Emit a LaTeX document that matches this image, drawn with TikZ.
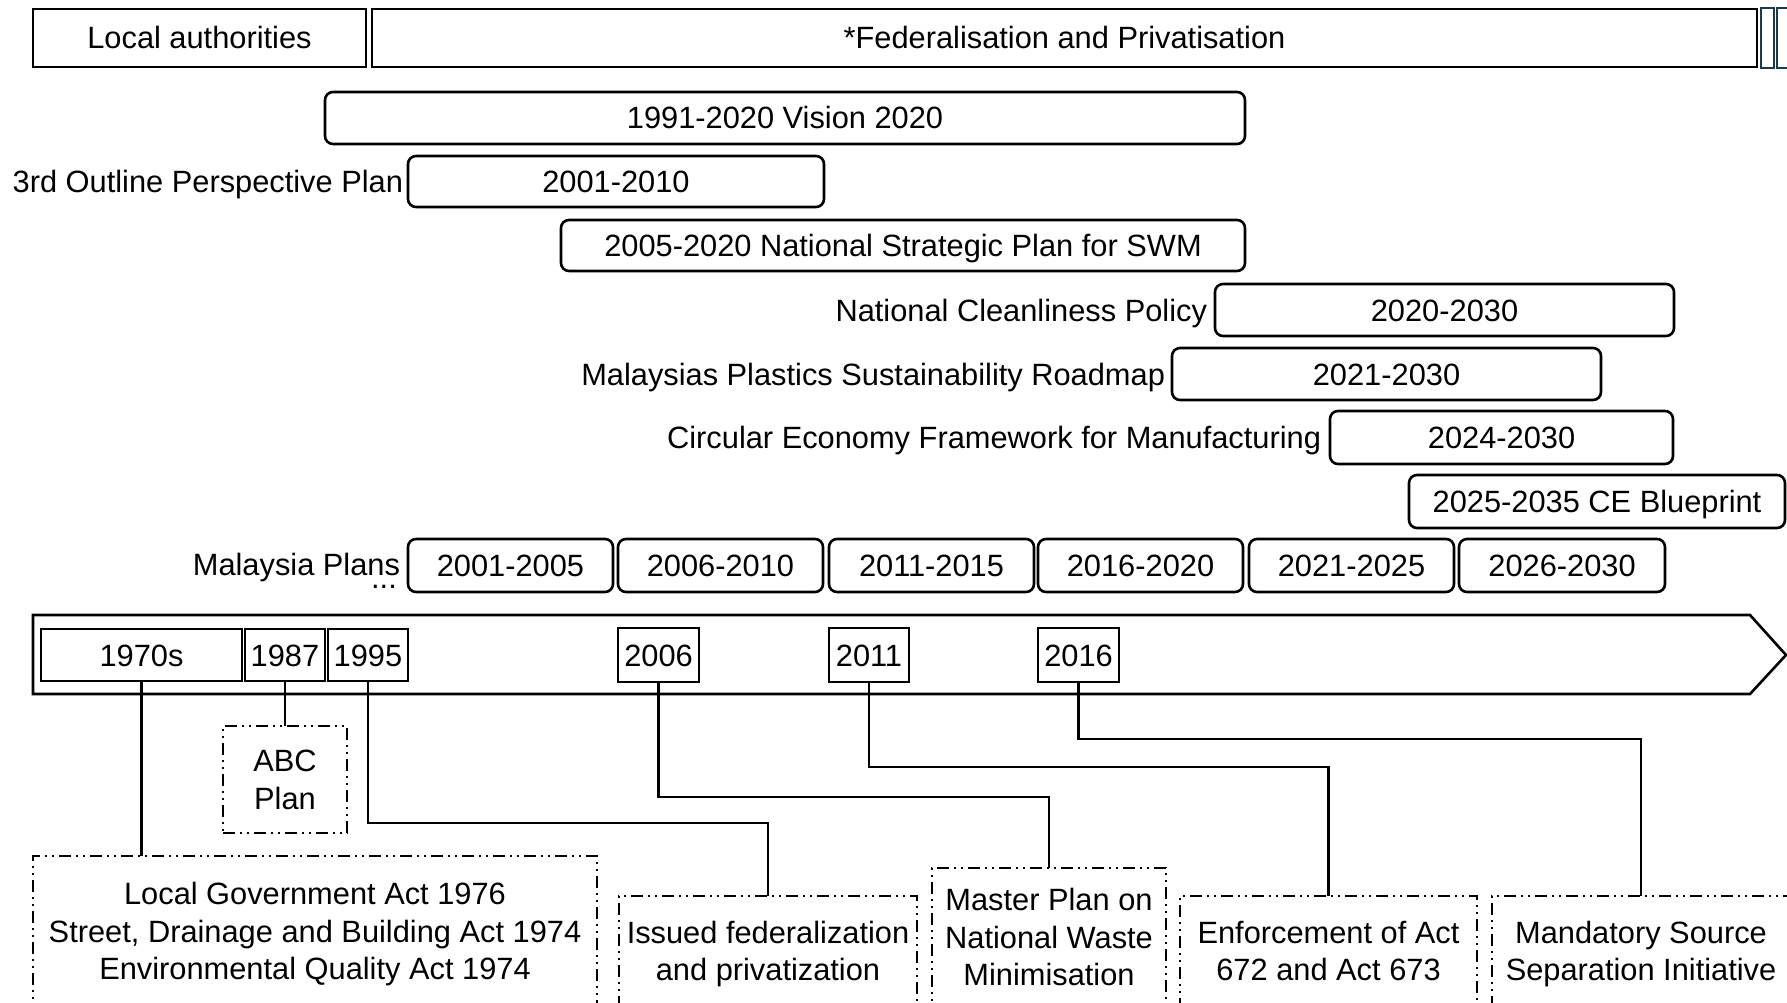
\documentclass[tikz,border=0pt]{standalone}
\usepackage{fontspec}
\setmainfont{Liberation Sans}
\begin{document}
\begin{tikzpicture}[x=1pt,y=-1pt,
  every node/.style={font=\fontsize{30.8}{37.5}\selectfont, inner sep=0pt, outer sep=0pt},
  oneline/.style={text height=22pt, text depth=0pt},
  topbox/.style={draw, line width=2.6pt, minimum height=58pt, oneline},
  rbox/.style={draw, line width=2.6pt, rounded corners=8pt, oneline},
  yearbox/.style={draw, line width=2.6pt, oneline},
  evbox/.style={draw, line width=2pt, dash pattern=on 12pt off 5pt on 2pt off 5pt on 2pt off 5pt, align=center, text depth=0pt},
  conn/.style={line width=2.4pt},
  lbl/.style={anchor=east, oneline},
  thinbox/.style={draw=slate, line width=1.7pt}]
\definecolor{slate}{HTML}{1B3A4B}
\path[use as bounding box] (0,0) rectangle (1787,1003);
\clip (0,0) rectangle (1787,1003);

% top row
\node[topbox, minimum width=333pt] (local) at (199.5,38) {Local authorities};
\node[topbox, minimum width=1385pt] (fed) at (1064.5,38) {*Federalisation and Privatisation};
\node[thinbox, minimum width=13pt, minimum height=60pt] (thinA) at (1767.5,38) {};
\node[thinbox, minimum width=14pt, minimum height=60pt] (thinB) at (1784,38) {};

% plans
\node[rbox, minimum width=920pt, minimum height=52pt] (vision) at (785,118) {1991-2020 Vision 2020};
\node[lbl] (oppl) at (403,182) {3rd Outline Perspective Plan};
\node[rbox, minimum width=416pt, minimum height=51pt] (opp) at (616,181.5) {2001-2010};
\node[rbox, minimum width=684pt, minimum height=51pt] (nsp) at (903,245.5) {2005-2020 National Strategic Plan for SWM};
\node[lbl] (ncpl) at (1207,310) {National Cleanliness Policy};
\node[rbox, minimum width=459pt, minimum height=52pt] (ncp) at (1444.5,310) {2020-2030};
\node[lbl] (mpsrl) at (1165,374) {Malaysias Plastics Sustainability Roadmap};
\node[rbox, minimum width=429pt, minimum height=52pt] (mpsr) at (1386.5,374) {2021-2030};
\node[lbl] (cefl) at (1321,437.5) {Circular Economy Framework for Manufacturing};
\node[rbox, minimum width=343pt, minimum height=53pt] (cef) at (1501.5,437.5) {2024-2030};
\node[rbox, minimum width=376pt, minimum height=53pt] (ceb) at (1597,501.5) {2025-2035 CE Blueprint};

\node[lbl] (mpl) at (400,564.5) {Malaysia Plans};
\node[anchor=base] (mpdots) at (384,588) {...};
\node[rbox, minimum width=205pt, minimum height=53pt] (p1) at (510.5,565.5) {2001-2005};
\node[rbox, minimum width=205pt, minimum height=53pt] (p2) at (720.5,565.5) {2006-2010};
\node[rbox, minimum width=205pt, minimum height=53pt] (p3) at (931.5,565.5) {2011-2015};
\node[rbox, minimum width=205pt, minimum height=53pt] (p4) at (1140.5,565.5) {2016-2020};
\node[rbox, minimum width=205pt, minimum height=53pt] (p5) at (1351.5,565.5) {2021-2025};
\node[rbox, minimum width=206pt, minimum height=53pt] (p6) at (1562,565.5) {2026-2030};

% timeline arrow
\draw[line width=2.6pt] (33,615) -- (1750,615) -- (1786,655) -- (1750,694) -- (33,694) -- cycle;

% year boxes
\node[yearbox, minimum width=201pt, minimum height=52pt] (y1970) at (141.5,655) {1970s};
\node[yearbox, minimum width=80pt, minimum height=52pt] (y1987) at (285,655) {1987};
\node[yearbox, minimum width=80pt, minimum height=52pt] (y1995) at (368,655) {1995};
\node[yearbox, minimum width=81pt, minimum height=54pt] (y2006) at (658.5,655) {2006};
\node[yearbox, minimum width=80pt, minimum height=54pt] (y2011) at (869,655) {2011};
\node[yearbox, minimum width=81pt, minimum height=54pt] (y2016) at (1078.5,655) {2016};

% event boxes
\node[evbox, minimum width=124pt, minimum height=107pt] (abc) at (285,779.5) {ABC\\Plan};
\node[evbox, minimum width=564pt, minimum height=150pt] (lga) at (315,931) {Local Government Act 1976\\Street, Drainage and Building Act 1974\\Environmental Quality Act 1974};
\node[evbox, minimum width=298pt, minimum height=110pt] (issued) at (768,951) {Issued federalization\\and privatization};
\node[evbox, minimum width=234pt, minimum height=138pt] (master) at (1049,937) {Master Plan on\\National Waste\\Minimisation};
\node[evbox, minimum width=297pt, minimum height=110pt] (enf) at (1328.5,951) {Enforcement of Act\\672 and Act 673};
\node[evbox, minimum width=298pt, minimum height=110pt] (msi) at (1641,951) {Mandatory Source\\Separation Initiative};

% connectors
\draw[conn] (y1970.south) -- (y1970.south |- lga.north);
\draw[conn] (y1987.south) -- (abc.north);
\draw[conn] (y1995.south) -- ++(0,142) -| (issued.north);
\draw[conn] (y2006.south) -- ++(0,115) -| (master.north);
\draw[conn] (y2011.south) -- ++(0,85) -| (enf.north);
\draw[conn] (y2016.south) -- ++(0,57) -| (msi.north);
\end{tikzpicture}
\end{document}
